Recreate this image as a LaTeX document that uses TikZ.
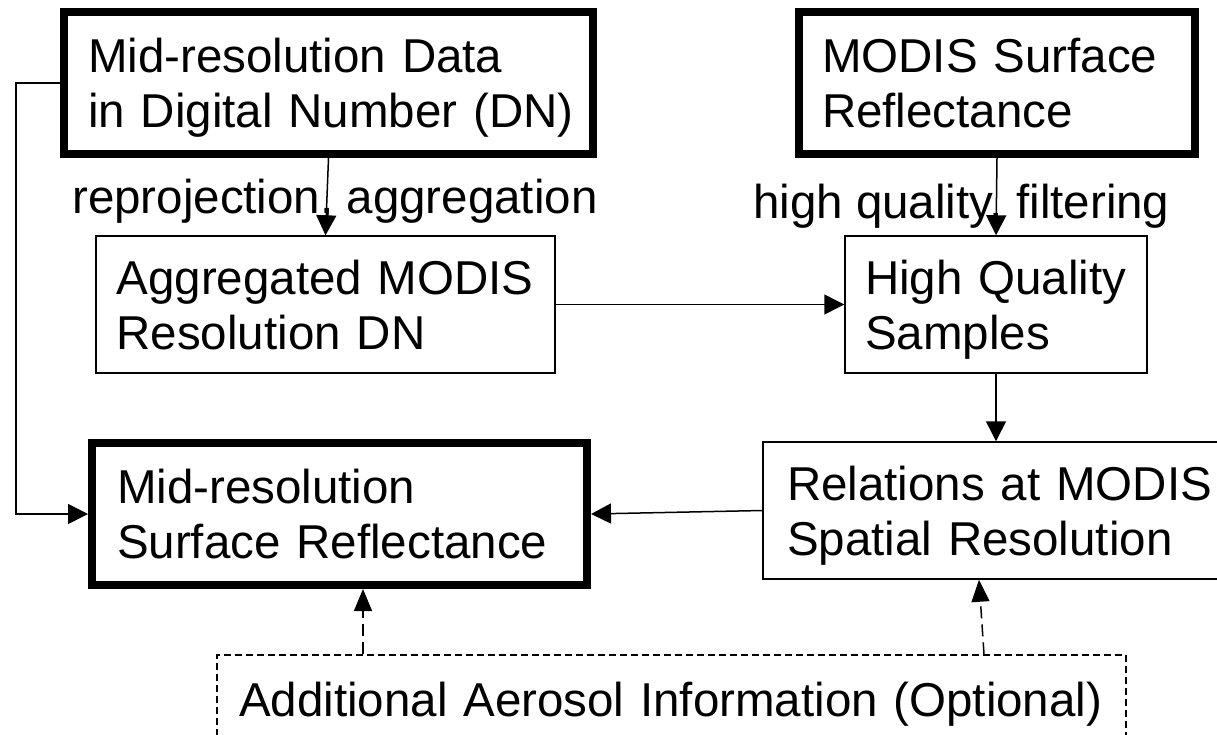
\documentclass[tikz,border=0pt]{standalone}
\usepackage{fontspec}
\setmainfont{Liberation Sans}
\usetikzlibrary{arrows.meta}
\begin{document}
\begin{tikzpicture}[x=1pt,y=-1pt,
  every node/.style={font=\fontsize{47.5}{55}\selectfont},
  boxbase/.style={draw, rectangle, inner sep=0pt, align=left, text height=40pt, text depth=61pt},
  heavybox/.style={boxbase, line width=8pt},
  lightbox/.style={boxbase, line width=1.5pt},
  optbox/.style={draw, rectangle, inner sep=0pt, align=left, text height=40pt, text depth=6pt, line width=1.5pt, dash pattern=on 7pt off 4pt},
  arr/.style={line width=1.5pt, -{Triangle[length=20pt,width=20pt]}},
  darr/.style={line width=1.5pt, dash pattern=on 12pt off 6pt, -{Triangle[length=22pt,width=18pt]}},
  lbl/.style={inner sep=0pt, anchor=base west}]
\useasboundingbox (0,0) rectangle (1217,734);

\node[heavybox, minimum width=529pt, minimum height=142pt, text width=481pt] (A) at (328.5,83)
  {\mbox{Mid-resolution Data}\\\mbox{in Digital Number (DN)}};
\node[heavybox, minimum width=396pt, minimum height=142pt, text width=350pt] (B) at (997,83)
  {\mbox{MODIS Surface}\\\mbox{Reflectance}};
\node[lightbox, minimum width=459pt, minimum height=137pt, text width=418pt] (C) at (325.5,304.5)
  {\mbox{Aggregated MODIS}\\\mbox{Resolution DN}};
\node[lightbox, minimum width=302pt, minimum height=137pt, text width=262pt] (D) at (996,304.5)
  {\mbox{High Quality}\\\mbox{Samples}};
\node[heavybox, minimum width=495pt, minimum height=142pt, text width=445pt] (E) at (339.5,514)
  {\mbox{Mid-resolution}\\\mbox{Surface Reflectance}};
\node[lightbox, minimum width=470pt, minimum height=137pt, text width=422pt] (F) at (998,510.5)
  {\mbox{Relations at MODIS}\\\mbox{Spatial Resolution}};
\node[optbox, minimum width=909pt, minimum height=88pt, text width=865pt] (G) at (671.5,699)
  {\mbox{Additional Aerosol Information (Optional)}};

\node[lbl] (L1) at (72,213) {reprojection, aggregation};
\node[lbl] (L2) at (753,218) {high quality, filtering};

\draw[arr] (A.south) -- (C.north);
\draw[arr] (B.south) -- (D.north);
\draw[arr] (C.east) -- (D.west);
\draw[arr] (D.south) -- (D.south |- F.north);
\draw[arr] (F.west) -- (E.east);
\coordinate (lc) at (16,83);
\draw[arr] (A.west) -- (lc) |- (E.west);
\coordinate (gl) at (363,0);
\draw[darr] (gl |- G.north) -- (gl |- E.south);
\coordinate (gr1) at (984,0);
\coordinate (gr2) at (979,0);
\draw[darr] (gr1 |- G.north) -- (gr2 |- F.south);
\end{tikzpicture}
\end{document}
